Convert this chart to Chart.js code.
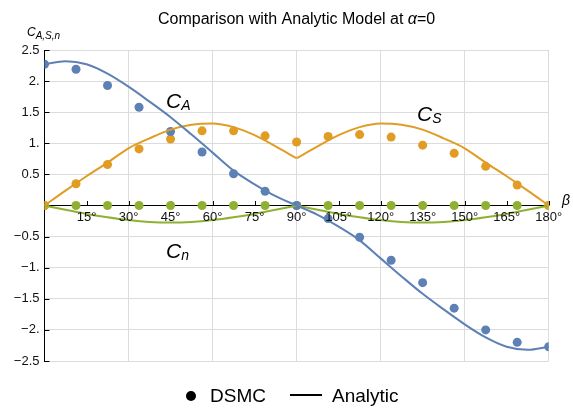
<!DOCTYPE html>
<html>
<head>
<meta charset="utf-8">
<script src="https://cdn.jsdelivr.net/npm/chart.js@4/dist/chart.umd.min.js"></script>
<style>
  html, body { margin: 0; padding: 0; background: #fff; }
  #wrap { width: 573px; height: 410px; }
</style>
</head>
<body>
<div id="wrap"><canvas id="chart"></canvas></div>
<script>
// DSMC samples, every 11.25 deg
const dsmcAngles = [0, 11.25, 22.5, 33.75, 45, 56.25, 67.5, 78.75, 90, 101.25, 112.5, 123.75, 135, 146.25, 157.5, 168.75, 180];
const dsmcCA = [2.27, 2.19, 1.93, 1.58, 1.19, 0.86, 0.51, 0.23, 0, -0.21, -0.51, -0.88, -1.24, -1.65, -2.0, -2.2, -2.27];
const dsmcCS = [0, 0.35, 0.66, 0.91, 1.07, 1.20, 1.20, 1.12, 1.02, 1.11, 1.14, 1.10, 0.97, 0.84, 0.63, 0.33, 0];
const dsmcCN = [0, 0, 0, 0, 0, 0, 0, 0, 0, 0, 0, 0, 0, 0, 0, 0, 0];

const modelAngles = [0, 7.5, 15, 22.5, 30, 37.5, 45, 52.5, 60, 67.5, 75, 82.5, 90, 97.5, 105, 112.5, 120, 127.5, 135, 142.5, 150, 157.5, 165, 172.5, 180];
const modelCA = [2.27, 2.32, 2.27, 2.12, 1.91, 1.67, 1.42, 1.14, 0.85, 0.56, 0.34, 0.15, 0, -0.15, -0.34, -0.56, -0.85, -1.14, -1.42, -1.67, -1.91, -2.12, -2.27, -2.32, -2.27];
const modelCS = [0, 0.24, 0.47, 0.69, 0.92, 1.08, 1.22, 1.30, 1.32, 1.26, 1.13, 0.95, 0.76, 0.95, 1.13, 1.26, 1.32, 1.30, 1.22, 1.08, 0.92, 0.69, 0.47, 0.24, 0];
const modelCN = [0, -0.07, -0.135, -0.19, -0.235, -0.265, -0.275, -0.265, -0.235, -0.19, -0.135, -0.07, 0, -0.07, -0.135, -0.19, -0.235, -0.265, -0.275, -0.265, -0.235, -0.19, -0.135, -0.07, 0];

const BLUE = '#5e81b5';
const ORANGE = '#e19c24';
const GREEN = '#8fb032';
const FONT = '"Liberation Sans", Arial, sans-serif';

function pts(xs, ys, from = 0, to = xs.length) {
    const out = [];
    for (let i = from; i < to; i++) out.push({ x: xs[i], y: ys[i] });
    return out;
}

function modelLine(label, data, color) {
    return {
        label: label,
        data: data,
        borderColor: color,
        borderWidth: 2,
        pointRadius: 0,
        fill: false,
        cubicInterpolationMode: 'monotone'
    };
}

function dsmcDots(label, data, color) {
    return {
        label: label,
        data: data,
        showLine: false,
        pointRadius: 4.5,
        pointBackgroundColor: color,
        pointBorderWidth: 0
    };
}

// the C_S and C_n curves have a corner at 90 deg, so each is drawn in two halves
const datasets = [
    modelLine('Analytic C_A', pts(modelAngles, modelCA), BLUE),
    modelLine('Analytic C_S', pts(modelAngles, modelCS, 0, 13), ORANGE),
    modelLine('Analytic C_S ', pts(modelAngles, modelCS, 12, 25), ORANGE),
    modelLine('Analytic C_n', pts(modelAngles, modelCN, 0, 13), GREEN),
    modelLine('Analytic C_n ', pts(modelAngles, modelCN, 12, 25), GREEN),
    dsmcDots('DSMC C_A', pts(dsmcAngles, dsmcCA), BLUE),
    dsmcDots('DSMC C_S', pts(dsmcAngles, dsmcCS), ORANGE),
    dsmcDots('DSMC C_n', pts(dsmcAngles, dsmcCN), GREEN)
];

function fmtY(v) {
    if (v === 0) return '';
    const s = Number.isInteger(v) ? Math.abs(v) + '.' : String(Math.abs(v));
    return (v < 0 ? '\u2212' : '') + s;
}

// draw a run of [text, font, dy] pieces starting at x
function drawRuns(ctx, x, y, runs) {
    runs.forEach(([text, font, dy]) => {
        ctx.font = font;
        ctx.fillText(text, x, y + (dy || 0));
        x += ctx.measureText(text).width;
    });
    return x;
}

function runsWidth(ctx, runs) {
    let w = 0;
    runs.forEach(([text, font]) => { ctx.font = font; w += ctx.measureText(text).width; });
    return w;
}

const decorations = {
    id: 'decorations',
    beforeDatasetsDraw(chart) {
        // inward tick marks, under the marks
        const ctx = chart.ctx;
        const xs = chart.scales.x, ys = chart.scales.y;
        const x0 = xs.getPixelForValue(0), y0 = ys.getPixelForValue(0);
        ctx.save();
        ctx.strokeStyle = '#000';
        ctx.lineWidth = 1;
        ctx.beginPath();
        xs.ticks.forEach(t => {
            if (t.value === 0) return;
            const px = Math.round(xs.getPixelForValue(t.value)) + 0.5;
            ctx.moveTo(px, y0);
            ctx.lineTo(px, y0 - 4.5);
        });
        ys.ticks.forEach(t => {
            if (t.value === 0) return;
            const py = Math.round(ys.getPixelForValue(t.value)) + 0.5;
            ctx.moveTo(x0, py);
            ctx.lineTo(x0 + 5, py);
        });
        ctx.stroke();
        ctx.restore();
    },
    afterDraw(chart) {
        const ctx = chart.ctx;
        ctx.save();
        ctx.fillStyle = '#000';
        ctx.strokeStyle = '#000';
        ctx.textBaseline = 'alphabetic';
        ctx.textAlign = 'left';

        // title
        const title = [
            ['Comparison with Analytic Model at ', '16px ' + FONT],
            ['\u03b1', 'italic 16px ' + FONT],
            ['=0', '16px ' + FONT]
        ];
        const cx = (chart.chartArea.left + chart.chartArea.right) / 2;
        drawRuns(ctx, cx - runsWidth(ctx, title) / 2, 24, title);

        // axis labels
        drawRuns(ctx, 27, 36, [['C', 'italic 12px ' + FONT], ['A,S,n', 'italic 10px ' + FONT, 3]]);
        drawRuns(ctx, 562, 205, [['\u03b2', 'italic 14px ' + FONT]]);

        // curve labels
        drawRuns(ctx, 166, 108, [['C', 'italic 21px ' + FONT], ['A', 'italic 14px ' + FONT, 2]]);
        drawRuns(ctx, 417, 121, [['C', 'italic 21px ' + FONT], ['S', 'italic 14px ' + FONT, 2]]);
        drawRuns(ctx, 166, 258, [['C', 'italic 21px ' + FONT], ['n', 'italic 14px ' + FONT, 2]]);

        // legend
        ctx.beginPath();
        ctx.arc(191, 396, 5, 0, Math.PI * 2);
        ctx.fill();
        drawRuns(ctx, 210, 402, [['DSMC', '19px ' + FONT]]);
        ctx.beginPath();
        ctx.lineWidth = 2;
        ctx.moveTo(290, 395);
        ctx.lineTo(322, 395);
        ctx.stroke();
        drawRuns(ctx, 332, 402, [['Analytic', '19px ' + FONT]]);

        ctx.restore();
    }
};

new Chart(document.getElementById('chart'), {
    type: 'line',
    data: { datasets: datasets },
    options: {
        responsive: true,
        maintainAspectRatio: false,
        animation: false,
        events: [],
        layout: { padding: { left: 0, right: 24.3, top: 50, bottom: 49 } },
        plugins: {
            legend: { display: false },
            title: { display: false },
            tooltip: { enabled: false }
        },
        scales: {
            x: {
                type: 'linear',
                position: { y: 0 },
                min: 0,
                max: 180,
                grid: {
                    color: c => (c.tick && c.tick.value % 30 === 0 && c.tick.value !== 0) ? '#dcdcdc' : 'rgba(0,0,0,0)',
                    drawTicks: false
                },
                border: { color: '#000', width: 1 },
                ticks: {
                    z: 1,
                    stepSize: 15,
                    padding: 4,
                    maxRotation: 0,
                    autoSkip: false,
                    color: '#111',
                    font: { family: FONT, size: 13 },
                    callback: v => v === 0 ? '' : v + '\u00b0'
                }
            },
            y: {
                type: 'linear',
                position: 'left',
                min: -2.5,
                max: 2.5,
                afterFit: s => { s.width = 44.5; },
                grid: {
                    color: c => (c.tick && c.tick.value === 0) ? 'rgba(0,0,0,0)' : '#dcdcdc',
                    drawTicks: false
                },
                border: { color: '#000', width: 1 },
                ticks: {
                    stepSize: 0.5,
                    padding: 5,
                    color: '#111',
                    font: { family: FONT, size: 13 },
                    callback: v => fmtY(v)
                }
            }
        }
    },
    plugins: [decorations]
});
</script>
</body>
</html>
